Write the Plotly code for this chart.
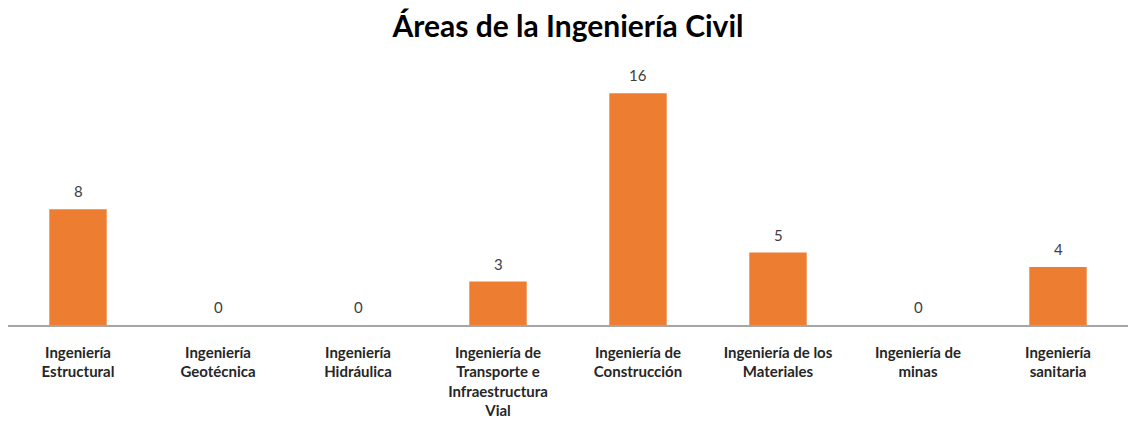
import plotly.graph_objects as go

categories = [
    "Ingeniería<br>Estructural",
    "Ingeniería<br>Geotécnica",
    "Ingeniería<br>Hidráulica",
    "Ingeniería de<br>Transporte e<br>Infraestructura<br>Vial",
    "Ingeniería de<br>Construcción",
    "Ingeniería de los<br>Materiales",
    "Ingeniería de<br>minas",
    "Ingeniería<br>sanitaria",
]
values = [8, 0, 0, 3, 16, 5, 0, 4]
title_text = "Áreas de la Ingeniería Civil"

FONT = "Lato, Open Sans, sans-serif"

fig = go.Figure(
    go.Bar(
        x=categories,
        y=values,
        marker=dict(color="#ED7D31", line=dict(width=0)),
    )
)

for c, v in zip(categories, values):
    fig.add_annotation(
        x=c, y=v, text=str(v), showarrow=False,
        xref="x", yref="y", yanchor="bottom", yshift=7,
        font=dict(family=FONT, size=15, color="#404040"),
    )

# page body has an 8px default margin; margins compensate for it
fig.update_layout(
    width=1139,
    height=429,
    paper_bgcolor="white",
    plot_bgcolor="white",
    margin=dict(l=0, r=19, t=52, b=112, autoexpand=False),
    bargap=0.59,
    showlegend=False,
    title=dict(
        text="<b>" + title_text + "</b>",
        x=0.5,
        xref="paper",
        xanchor="center",
        y=1 - 18 / 429,
        yref="container",
        yanchor="middle",
        font=dict(family=FONT, size=30, color="#000000"),
    ),
    xaxis=dict(
        automargin=False,
        showline=True,
        linecolor="#A6A6A6",
        linewidth=1.5,
        ticks="outside",
        ticklen=13,
        tickcolor="rgba(0,0,0,0)",
        tickangle=0,
        tickfont=dict(family=FONT, size=15, color="#262626", weight="bold"),
        showgrid=False,
    ),
    yaxis=dict(
        range=[0, 18.3],
        visible=False,
        showgrid=False,
        zeroline=False,
    ),
)

fig.write_html("out.html")
